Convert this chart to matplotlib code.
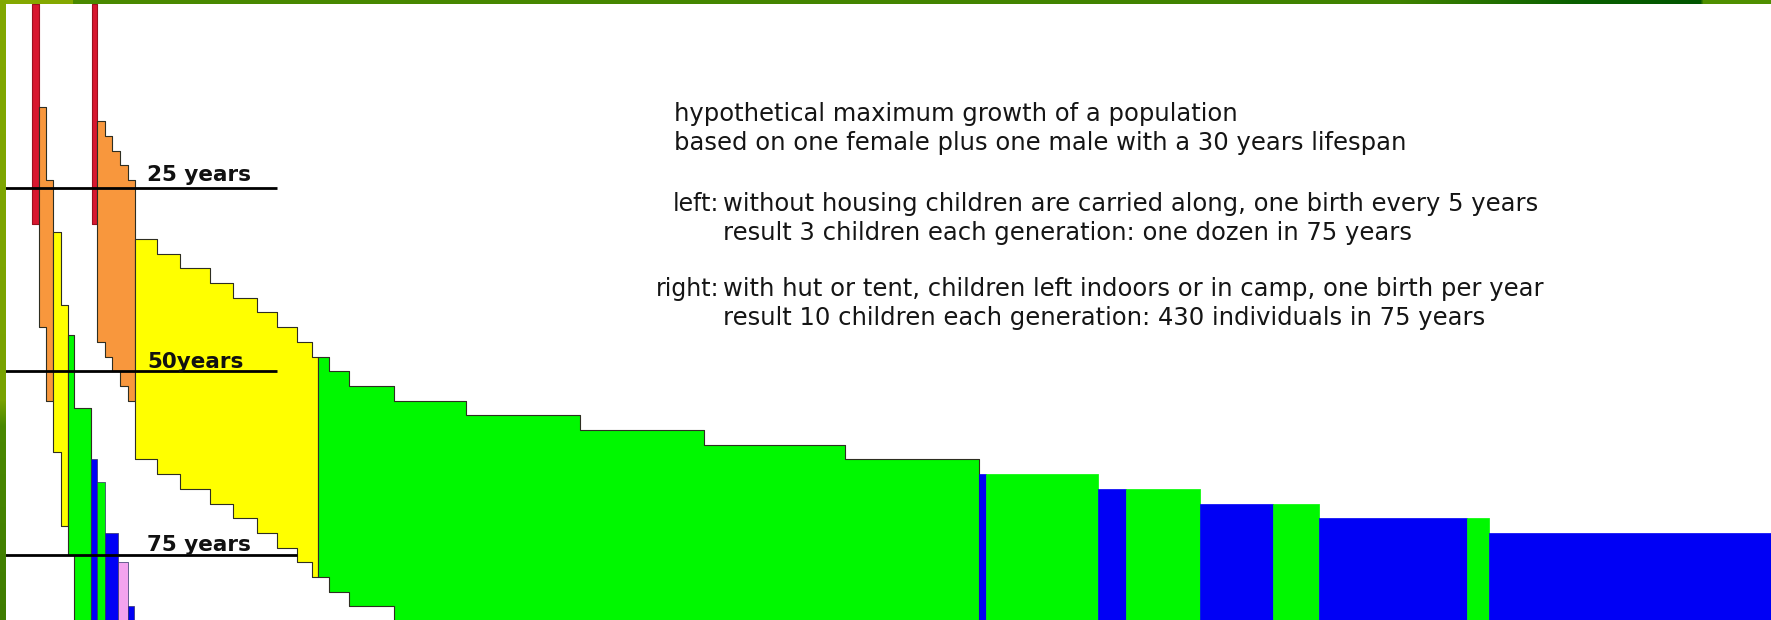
import numpy as np
import matplotlib
matplotlib.use("Agg")
import matplotlib.pyplot as plt

LIFESPAN = 30  # years every individual lives

# reference lines (years from the first couple)
year_marks = [25, 50, 75]
year_labels = ["25 years", "50years", "75 years"]
line_ends = [277, 277, 297]

# left population: column edges along x and birth year of each column
left_red_edges = [32, 39]
left_red_births = [0]
left_orange_edges = [39, 46, 53]
left_orange_births = [14, 24]
left_yellow_edges = [53, 61, 68]
left_yellow_births = [31, 41]
left_green_edges = [68, 74, 91]
left_green_births = [45, 55]
left_tail_edges = [91, 97.5, 104.7, 118.5, 127.7, 134.4]
left_tail_births = [62, 65, 72, 76, 82]
left_tail_gen = ["blue", "green", "blue", "pink", "blue"]

# right population
right_red_edges = [92, 97.5]
right_red_births = [0]
right_orange_edges = [97.5, 105, 112.5, 120, 128, 135.5]
right_orange_births = [16, 18, 20, 22, 24]
right_yellow_edges = [135.5, 156.7, 180, 210, 233, 256.7, 276.7, 296.7, 311.7, 318.3]
right_yellow_births = [32, 34, 36, 38, 40, 42, 44, 46, 48]
right_green_edges = [318.3, 329, 349, 393.7, 466, 580, 704, 845.5, 978.8]
right_green_births = [48, 50, 52, 54, 56, 58, 60, 62]
right_tail_edges = [978.8, 985.6, 1098.2, 1126.5, 1200.3, 1273, 1319, 1466.8, 1489.3, 1771]
right_tail_births = [64, 64, 66, 66, 68, 68, 70, 70, 72]
right_tail_gen = ["blue", "green", "blue", "green", "blue", "green", "blue", "green", "blue"]

colors = {
    "red": "#d8172f",
    "orange": "#f8973d",
    "yellow": "#ffff00",
    "green": "#00f800",
    "blue": "#0000f5",
    "pink": "#f3a3ee",
}
outline = "#2e2e22"

text_lines = [
    ("", "hypothetical maximum growth of a population"),
    ("", "based on one female plus one male with a 30 years lifespan"),
    ("left:", "without housing children are carried along, one birth every 5 years"),
    ("", "result 3 children each generation: one dozen in 75 years"),
    ("right:", "with hut or tent, children left indoors or in camp, one birth per year"),
    ("", "result 10 children each generation: 430 individuals in 75 years"),
]
text_baselines = [121, 150, 211, 240, 296, 325]

W, H = 1771, 620
fig = plt.figure(figsize=(W / 100, H / 100), dpi=100)
fig.patch.set_facecolor("white")
ax = fig.add_axes([0, 0, 1, 1])
ax.set_xlim(0, W)
# 7.35 px per year, year 0 at 3.8 px from the top
ax.set_ylim((H - 3.8) / 7.35, -3.8 / 7.35)
ax.axis("off")


def cohort(edges, births, face, edge=outline, lw=0.8, z=2):
    top = np.append(np.asarray(births, float), births[-1])
    ax.fill_between(edges, top, top + LIFESPAN, step="post",
                    facecolor=face, edgecolor=edge, linewidth=lw, zorder=z)


cohort(left_red_edges, left_red_births, colors["red"], "#9c1020")
cohort(left_orange_edges, left_orange_births, colors["orange"])
cohort(left_yellow_edges, left_yellow_births, colors["yellow"])
cohort(left_green_edges, left_green_births, colors["green"])
for i, g in enumerate(left_tail_gen):
    cohort(left_tail_edges[i:i + 2], [left_tail_births[i]], colors[g], "#30306a", 0.5)

cohort(right_red_edges, right_red_births, colors["red"], "#9c1020")
cohort(right_orange_edges, right_orange_births, colors["orange"])
cohort(right_yellow_edges, right_yellow_births, colors["yellow"])
cohort(right_green_edges, right_green_births, colors["green"])
for i, g in enumerate(right_tail_gen):
    cohort(right_tail_edges[i:i + 2], [right_tail_births[i]], colors[g], colors[g], 0.5)

ax.hlines(year_marks, 0, line_ends, color="black", linewidth=2.0, zorder=5)
for mark, lab, off in zip(year_marks, year_labels, [4.6, 2.6, 2.6]):
    ax.annotate(lab, (147, mark), xytext=(0, off), textcoords="offset points",
                va="baseline", ha="left", fontsize=15.5, fontweight="bold",
                family="DejaVu Sans", color="#111111", zorder=6)

for (head, body), yb in zip(text_lines, text_baselines):
    fy = 1 - yb / H
    if head:
        fig.text(719 / W, fy, head, fontsize=17, va="baseline", ha="right",
                 color="#151515")
    x0 = 674 if (yb < 200) else 723
    fig.text(x0 / W, fy, body, fontsize=17.5, va="baseline", color="#151515")

# green frame of the slide
def rgb(h):
    return [int(h[i:i + 2], 16) / 255 for i in (1, 3, 5)]

top_x = [0, 72, 73, 1400, 1571, 1700, 1703, W]
top_c = ["#84a800", "#84a800", "#4a8a00", "#3f8200", "#0a6000", "#005500", "#4f8f00", "#4f8f00"]
xs = np.arange(W)
bar = np.stack([np.interp(xs, top_x, [rgb(c)[k] for c in top_c]) for k in range(3)], axis=-1)
tax = fig.add_axes([0, 1 - 4 / H, 1, 4 / H])
tax.imshow(bar[None, :, :], aspect="auto", interpolation="nearest")
tax.axis("off")

left_y = [0, 400, 425, H]
left_c = ["#82a800", "#78a200", "#4a8800", "#3e7c00"]
ys = np.arange(H)
lbar = np.stack([np.interp(ys, left_y, [rgb(c)[k] for c in left_c]) for k in range(3)], axis=-1)
lax = fig.add_axes([0, 0, 6 / W, 1])
lax.imshow(lbar[:, None, :], aspect="auto", interpolation="nearest")
lax.axis("off")

fig.savefig("out.png", dpi=100)
